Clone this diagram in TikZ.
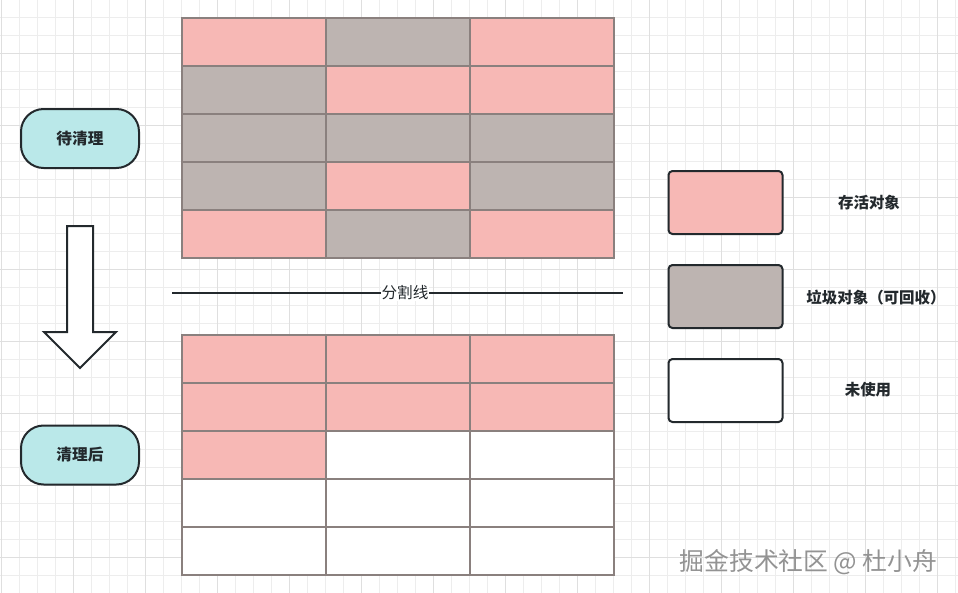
\documentclass[tikz,border=0pt]{standalone}
\usepackage{fontspec}
\setmainfont{Noto Sans CJK SC}
\definecolor{celll}{HTML}{F7B8B5}
\definecolor{cellg}{HTML}{BDB4B1}
\definecolor{cellf}{HTML}{FFFFFF}
\definecolor{cellline}{HTML}{8A807E}
\definecolor{pillfill}{HTML}{BAE8E9}
\definecolor{inkdark}{HTML}{23292D}
\definecolor{gridminor}{HTML}{EDEDED}
\definecolor{gridmajor}{HTML}{DFDFDF}
\tikzset{
  pill/.style={draw=inkdark, line width=1.5pt, fill=pillfill, rounded corners=17pt,
    minimum width=88.5pt, minimum height=44.25pt, inner sep=0pt,
    font=\bfseries\fontsize{11.8}{14}\selectfont, text=inkdark},
  legendbox/.style={draw=inkdark, line width=1.5pt, rounded corners=3pt,
    minimum width=85.5pt, minimum height=47.25pt, inner sep=0pt},
  legendtext/.style={font=\bfseries\fontsize{11.6}{14}\selectfont, text=inkdark},
  cell/.style={draw=cellline, line width=1pt}
}
\begin{document}
\begin{tikzpicture}[x=0.75pt,y=-0.75pt]
            \useasboundingbox (0,0) rectangle (958,593);
            \fill[white] (0,0) rectangle (958,593);
            % background grid
            \foreach \x in {1,19,...,955}
                \draw[gridminor, line width=0.6pt] (\x,0) -- (\x,593);
            \foreach \y in {17,35,...,593}
                \draw[gridminor, line width=0.6pt] (0,\y) -- (958,\y);
            \foreach \x in {1,73,...,955}
                \draw[gridmajor, line width=0.6pt] (\x,0) -- (\x,593);
            \foreach \y in {53,125,...,593}
                \draw[gridmajor, line width=0.6pt] (0,\y) -- (958,\y);
            % before: l = live, g = garbage
            \foreach \r/\cols in {0/{l,g,l},1/{g,l,l},2/{g,g,g},3/{g,l,g},4/{l,g,l}}
                \foreach \c [count=\k from 0] in \cols
                    \draw[cell, fill=cell\c] (182+144*\k,18+48*\r) rectangle ++(144,48);
            % after: f = free
            \foreach \r/\cols in {0/{l,l,l},1/{l,l,l},2/{l,f,f},3/{f,f,f},4/{f,f,f}}
                \foreach \c [count=\k from 0] in \cols
                    \draw[cell, fill=cell\c] (182+144*\k,335+48*\r) rectangle ++(144,48);
            % divider
            \node[fill=white, inner sep=0.5pt, font=\fontsize{11.7}{14}\selectfont, text=inkdark] (cut) at (405,293) {分割线};
            \coordinate (cutl) at (172,293);
            \coordinate (cutr) at (623,293);
            \draw[inkdark, line width=1.3pt] (cutl) -- (cut.west);
            \draw[inkdark, line width=1.3pt] (cut.east) -- (cutr);
            % states
            \node[pill] (before) at (80,138.5) {待清理};
            \node[pill] (after) at (80,455) {清理后};
            \draw[inkdark, line width=1.5pt, fill=white, line join=miter]
                (67,226) -- (93,226) -- (93,332) -- (116,332) -- (80,368) -- (44,332) -- (67,332) -- cycle;
            % legend
            \node[legendbox, fill=celll] (keylive) at (725.5,202.5) {};
            \node[legendtext] (keylivetext) at (869,203) {存活对象};
            \node[legendbox, fill=cellg] (keygarb) at (725.5,296.5) {};
            \node[legendtext] (keygarbtext) at (876,298) {垃圾对象（可回收）};
            \node[legendbox, fill=cellf] (keyfree) at (725.5,390.5) {};
            \node[legendtext] (keyfreetext) at (868,390) {未使用};
            % watermark
            \node[font=\fontsize{18.6}{21}\selectfont, text=gray!85] (mark) at (808.5,562) {掘金技术社区 @ 杜小舟};
        \end{tikzpicture}
\end{document}
